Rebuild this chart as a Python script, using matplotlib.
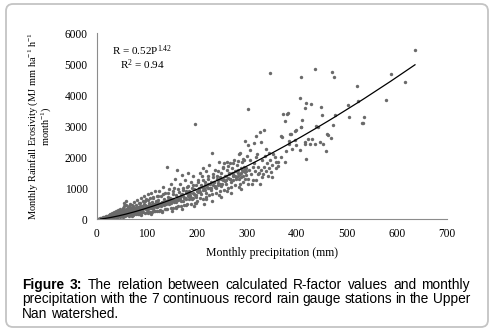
import numpy as np
import matplotlib
matplotlib.use("Agg")
import matplotlib.pyplot as plt
from matplotlib.patches import FancyBboxPatch
from matplotlib.transforms import IdentityTransform

# =====================================================
# DATA
# =====================================================

# 0-60 mm
p1 = [2, 4, 5, 6, 7, 8, 9, 10, 11, 12,
      13, 14, 15, 16, 17, 18, 19, 20, 21, 22,
      23, 24, 25, 26, 27, 28, 29, 30, 31, 32,
      33, 34, 35, 36, 37, 38, 39, 40, 41, 42,
      43, 44, 45, 46, 47, 48, 49, 50, 51, 52,
      53, 54, 55, 56, 57, 58, 59, 60, 58, 55,
      3, 6, 9, 12, 15, 18, 21, 24, 27, 30,
      33, 36, 39, 42, 45, 48, 51, 54, 57, 60]
r1 = [5, 10, 20, 8, 30, 15, 40, 25, 50, 10,
      60, 35, 80, 20, 45, 100, 30, 70, 120, 50,
      90, 150, 40, 110, 180, 70, 130, 60, 200, 100,
      160, 240, 80, 190, 120, 280, 150, 70, 230, 310,
      110, 180, 260, 90, 340, 140, 220, 300, 120, 380,
      200, 160, 420, 250, 130, 330, 470, 190, 600, 520,
      15, 25, 12, 35, 50, 60, 85, 70, 95, 140,
      90, 130, 200, 160, 150, 190, 250, 290, 210, 260]

# 60-120 mm
p2 = [61, 62, 63, 64, 65, 66, 67, 68, 69, 70,
      71, 72, 73, 74, 75, 76, 77, 78, 79, 80,
      81, 82, 83, 84, 85, 86, 87, 88, 89, 90,
      91, 92, 93, 94, 95, 96, 97, 98, 99, 100,
      101, 102, 103, 104, 105, 106, 107, 108, 109, 110,
      111, 112, 113, 114, 115, 116, 117, 118, 119, 120,
      62, 66, 70, 74, 78, 82, 86, 90, 94, 98,
      102, 106, 110, 114, 118, 64, 72, 80, 88, 96,
      104, 112, 120]
r2 = [150, 320, 230, 420, 120, 280, 500, 130, 360, 240,
      450, 140, 300, 560, 160, 380, 260, 470, 170, 330,
      620, 180, 400, 280, 520, 200, 350, 700, 200, 430,
      310, 580, 220, 380, 750, 190, 470, 330, 640, 230,
      420, 800, 210, 520, 360, 680, 240, 450, 850, 250,
      560, 400, 720, 260, 490, 900, 280, 600, 420, 760,
      250, 350, 300, 250, 350, 300, 420, 350, 480, 400,
      330, 430, 380, 420, 530, 200, 380, 260, 300, 360,
      470, 340, 400]

# 120-200 mm
p3 = [121, 122, 124, 125, 126, 128, 129, 130, 132, 133,
      134, 136, 137, 138, 140, 141, 142, 144, 145, 146,
      148, 149, 150, 152, 153, 154, 156, 157, 158, 160,
      161, 162, 164, 165, 166, 168, 169, 170, 172, 173,
      174, 176, 177, 178, 180, 181, 182, 184, 185, 186,
      188, 189, 190, 192, 193, 194, 196, 197, 198, 200,
      123, 127, 131, 135, 139, 143, 147, 151, 155, 159,
      163, 167, 171, 175, 179, 183, 187, 191, 195, 199]
r3 = [260, 620, 450, 900, 300, 540, 750, 280, 1050, 480,
      640, 320, 860, 560, 1690, 330, 720, 980, 500, 640,
      350, 1150, 580, 800, 380, 1000, 620, 1300, 400, 720,
      1600, 420, 880, 650, 1150, 440, 780, 1420, 600, 950,
      460, 1250, 700, 860, 480, 1050, 1500, 650, 900, 760,
      1200, 500, 1000, 700, 1380, 820, 3070, 540, 1100, 900,
      420, 500, 550, 450, 600, 520, 680, 640, 560, 780,
      620, 720, 820, 680, 900, 760, 850, 640, 960, 780]

# 200-300 mm
p4 = [201, 203, 204, 206, 207, 209, 210, 212, 213, 215,
      216, 218, 219, 221, 222, 224, 225, 227, 228, 230,
      231, 233, 234, 236, 237, 239, 240, 242, 243, 245,
      246, 248, 249, 251, 252, 254, 255, 257, 258, 260,
      261, 263, 264, 266, 267, 269, 270, 272, 273, 275,
      276, 278, 279, 281, 282, 284, 285, 287, 288, 290,
      291, 293, 294, 296, 297, 299, 300,
      205, 211, 217, 223, 229, 235, 241, 247, 253, 259,
      265, 271, 277, 283, 289, 295, 298, 286, 292]
r4 = [600, 1250, 950, 1500, 700, 1100, 1400, 660, 1650, 1000,
      1200, 720, 1550, 1050, 1300, 780, 1750, 1150, 1000, 2130,
      800, 1350, 1200, 1050, 1600, 850, 1400, 1250, 1100, 1850,
      900, 1300, 1500, 1150, 1700, 1810, 950, 1400, 1250, 1600,
      1830, 1000, 1500, 1800, 1300, 1050, 1650, 1450, 1250, 1900,
      1100, 1550, 1350, 1750, 1400, 2100, 1300, 2130, 1500, 1600,
      1860, 1400, 1900, 1300, 2530, 1550, 2050,
      1000, 1050, 1100, 1150, 1200, 1200, 1300, 1350, 1300, 1400,
      1450, 1500, 1550, 1600, 1650, 1700, 1650, 1150, 1200]

# above 300 mm (sparse)
p5 = [302, 303, 306, 310, 313, 314, 318, 321, 326, 328,
      334, 338, 339, 344, 346, 348, 350, 351, 352, 356,
      359, 359, 362, 363, 369, 369, 371, 373, 376, 377,
      378, 381, 382, 384, 385, 386, 388, 390, 396, 397,
      399, 399, 406, 406, 408, 409, 409, 411, 416, 417,
      417, 419, 419, 423, 426, 428, 431, 436, 436, 439,
      443, 447, 449, 451, 453, 459, 461, 463, 468, 470,
      473, 475, 476, 502, 505, 521, 523, 531, 533, 535,
      579, 588, 616, 636, 330, 335, 340, 345, 325, 330,
      318, 322]
r5 = [3560, 2390, 2230, 1130, 1700, 2460, 2690, 2100, 2820, 2480,
      2880, 2280, 1560, 2120, 4700, 1520, 1750, 1360, 2100, 2010,
      1640, 1850, 1830, 1730, 2010, 2680, 2650, 3390, 1830, 3160,
      2200, 3380, 3410, 2430, 2520, 2760, 2760, 2250, 2840, 2550,
      2870, 2380, 2240, 3910, 4580, 2970, 2980, 3200, 2430, 3600,
      2500, 3750, 1940, 2600, 2430, 3710, 2580, 4840, 2410, 3010,
      2980, 2500, 3620, 3370, 2410, 2200, 2760, 2710, 2630, 4750,
      3040, 4580, 3370, 3690, 3310, 4300, 3810, 3100, 3090, 3310,
      3830, 4680, 4410, 5450, 1900, 1700, 1800, 1650, 1500, 1350,
      1250, 1450]

# tail of the dense cluster, 300-350 mm
p5b = [303, 305, 307, 309, 312, 315, 316, 319, 323, 327,
       329, 333, 336, 342, 347]
r5b = [1300, 1600, 1900, 1450, 1250, 1800, 1550, 2000, 1700, 1150,
       1600, 1450, 2050, 1400, 1900]

# dense core of the cloud, 10-300 mm
p6a = [11, 14, 21, 24, 31, 34, 41, 46, 49, 56,
       59, 66, 69, 76, 81, 84, 91, 94, 101, 106,
       109, 116, 119, 126, 129, 136, 139, 146, 149, 156,
       159, 166, 169, 176, 179, 186, 189, 196, 199, 206,
       209, 216, 219, 226, 229, 236, 239, 246, 249, 256,
       259, 266, 269, 276, 279, 286, 289, 296, 299]
r6a = [25, 22, 55, 60, 70, 120, 90, 160, 130, 210,
       170, 250, 210, 290, 240, 330, 290, 370, 320, 420,
       360, 450, 400, 500, 440, 540, 480, 580, 520, 610,
       560, 650, 600, 700, 640, 740, 690, 790, 720, 870,
       800, 930, 860, 1010, 930, 1080, 1010, 1150, 1070, 1230,
       1140, 1300, 1200, 1380, 1290, 1450, 1350, 1520, 1420]
p6b = [12, 17, 19, 27, 28, 37, 38, 43, 52, 53,
       62, 63, 72, 73, 78, 87, 88, 97, 98, 103,
       112, 113, 122, 123, 132, 133, 142, 143, 152, 153,
       162, 163, 172, 173, 182, 183, 192, 193, 202, 203,
       212, 213, 222, 223, 232, 233, 242, 243, 252, 253,
       262, 263, 272, 273, 282, 283, 292, 293, 297]
r6b = [50, 70, 35, 130, 95, 200, 140, 250, 190, 320,
       240, 390, 290, 430, 330, 520, 380, 580, 430, 620,
       480, 700, 530, 740, 560, 800, 610, 850, 660, 900,
       700, 960, 740, 1000, 800, 1080, 850, 1120, 890, 1200,
       950, 1280, 1020, 1380, 1100, 1460, 1170, 1560, 1250, 1650,
       1320, 1720, 1400, 1800, 1480, 1880, 1550, 1950, 1620]

# lower edge of the cloud
p7 = [18, 33, 38, 52, 57, 71, 84, 89, 102, 108,
      124, 131, 138, 151, 158, 171, 178, 194, 198, 214,
      218, 231, 244, 249, 261, 268, 284, 288, 303]
r7 = [20, 25, 60, 60, 110, 100, 170, 150, 220, 180,
      280, 240, 320, 280, 380, 340, 460, 420, 520, 500,
      640, 600, 780, 720, 900, 850, 1050, 980, 1150]

# power trend line R = 0.52 P^1.42
COEF, EXPO = 0.52, 1.42
X_TICKS = [0, 100, 200, 300, 400, 500, 600, 700]
Y_TICKS = [0, 1000, 2000, 3000, 4000, 5000, 6000]

CAPTION = [
    "Figure 3: The relation between calculated R-factor values and monthly",
    "precipitation with the 7 continuous record rain gauge stations in the Upper",
    "Nan watershed.",
]

# =====================================================
# FIGURE
# =====================================================

W, H = 495, 335
plt.rcParams['mathtext.fontset'] = 'stix'
plt.rcParams['mathtext.default'] = 'regular'
SERIF = ['Liberation Serif', 'DejaVu Serif']

fig = plt.figure(figsize=(W / 100, H / 100), dpi=100)
fig.patch.set_facecolor('white')

ax = fig.add_axes([96.7 / W, 1 - 219.3 / H, (447 - 96.7) / W, (219.3 - 33) / H])

precip = np.concatenate([p1, p2, p3, p4, p5, p5b, p6a, p6b, p7])
erosiv = np.concatenate([r1, r2, r3, r4, r5, r5b, r6a, r6b, r7])

ax.scatter(precip, erosiv, s=6, color='#6a6a6a', linewidths=0, zorder=2)

trend_x = np.unique(precip[precip >= 8])
ax.plot(trend_x, COEF * trend_x ** EXPO, color='black', linewidth=0.9, zorder=3)

ax.set_xlim(0, 700)
ax.set_ylim(0, 6000)
ax.set_xticks(X_TICKS)
ax.set_yticks(Y_TICKS)
ax.tick_params(length=0, labelsize=8.3, pad=6.5)
for lab in ax.get_xticklabels() + ax.get_yticklabels():
    lab.set_family(SERIF)
for side in ['top', 'right']:
    ax.spines[side].set_visible(False)
for side in ['left', 'bottom']:
    ax.spines[side].set_color('#8c8c8c')
    ax.spines[side].set_linewidth(0.8)

ax.set_xlabel("Monthly precipitation (mm)", fontsize=8.5, family=SERIF, labelpad=5)
ax.set_ylabel("Monthly Rainfall Erosivity (MJ mm ha$^{-1}$ h$^{-1}$\nmonth$^{-1}$)",
              fontsize=7.5, family=SERIF, labelpad=8, linespacing=0.95)

ax.text(91, 5200, "R = 0.52P$^{1.42}$\nR$^{2}$ = 0.94", fontsize=8, family=SERIF,
        ha='center', va='center', multialignment='center', linespacing=1.0)

# rounded frame around everything
fig.patches.append(FancyBboxPatch((6, 8), 482, 323, boxstyle="round,pad=0,rounding_size=7",
                                  transform=IdentityTransform(), facecolor='none',
                                  edgecolor='#c4c4c4', linewidth=1.3, figure=fig))

# =====================================================
# JUSTIFIED CAPTION
# =====================================================

renderer = fig.canvas.get_renderer()
CAP_X0, CAP_X1 = 22, 470
BASELINES = [289, 303.3, 317.7]
CAP_SIZE = 9.9

for li, line in enumerate(CAPTION):
    words = line.split()
    texts = []
    for wi, w in enumerate(words):
        bold = (li == 0 and wi < 2)
        t = fig.text(0, 0, w, fontsize=CAP_SIZE, family='Liberation Sans',
                     fontweight='bold' if bold else 'normal', ha='left', va='baseline')
        texts.append(t)
    widths = [t.get_window_extent(renderer).width for t in texts]
    if li < len(CAPTION) - 1:
        gap = (CAP_X1 - CAP_X0 - sum(widths)) / (len(words) - 1)
    else:
        gap = 0.278 * CAP_SIZE * 100 / 72
    x = CAP_X0
    for t, w in zip(texts, widths):
        t.set_position((x / W, 1 - BASELINES[li] / H))
        x += w + gap

plt.savefig("out.png", dpi=100)
